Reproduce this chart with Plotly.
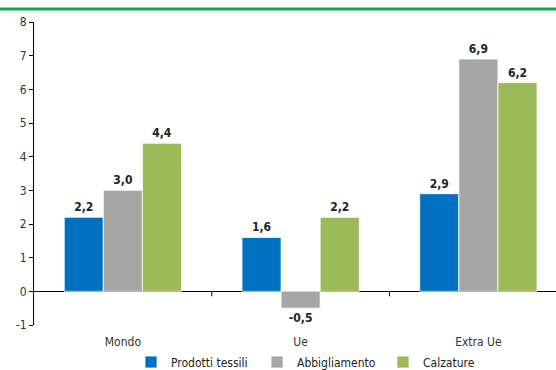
import plotly.graph_objects as go

categories = ["Mondo", "Ue", "Extra Ue"]
series_names = ["Prodotti tessili", "Abbigliamento", "Calzature"]
tessili = [2.2, 1.6, 2.9]
abbigliamento = [3.0, -0.5, 6.9]
calzature = [4.4, 2.2, 6.2]
colors = ["#0070C0", "#A6A6A6", "#9BBB59"]
y_ticks = [-1, 0, 1, 2, 3, 4, 5, 6, 7, 8]

FONT = "DejaVu Sans Condensed, Liberation Sans Narrow, Arial Narrow, sans-serif"

def fmt(v):
    return f"{v:.1f}".replace(".", ",")

fig = go.Figure()
for name, vals, col in zip(series_names, [tessili, abbigliamento, calzature], colors):
    fig.add_trace(go.Bar(
        x=categories, y=vals, name=name,
        marker=dict(color=col, line=dict(color="white", width=0.8)),
        text=[fmt(v) for v in vals], textposition="outside",
        textfont=dict(family=FONT, size=12, color="#222222", weight="bold"),
        cliponaxis=False,
    ))

W, H = 556, 370
L, R, T, B = 34, 0, 22, 45
plot_w = W - L - R
cat_px = 177.75
x_end = -0.5 + plot_w / cat_px

shapes = []
for i in range(len(categories) - 1):
    shapes.append(dict(type="line", xref="x", yref="y", ysizemode="pixel", yanchor=0,
                       x0=i + 0.5, x1=i + 0.5, y0=0, y1=-5,
                       line=dict(color="black", width=1)))
plot_h = H - T - B
shapes.append(dict(type="line", xref="paper", yref="paper",
                   x0=-L / plot_w, x1=1, y0=1 + 13 / plot_h, y1=1 + 13 / plot_h,
                   line=dict(color="#13A84B", width=3)))

fig.update_layout(
    width=W, height=H,
    margin=dict(l=L, r=R, t=T, b=B, autoexpand=False),
    paper_bgcolor="white", plot_bgcolor="white",
    barmode="group", bargap=0.34, bargroupgap=0,
    font=dict(family=FONT, size=12, color="#333333"),
    showlegend=True,
    legend=dict(orientation="h", xref="container", yref="container",
                x=0.5 + 42 / W, xanchor="center", y=1 - 362 / H, yanchor="middle",
                font=dict(family=FONT, size=12, color="#222222"),
                entrywidth=81, entrywidthmode="pixels",
                itemwidth=30, tracegroupgap=0),
    xaxis=dict(range=[-0.5, x_end], showline=False, showgrid=False, zeroline=False,
               ticks="outside", tickcolor="rgba(0,0,0,0)", ticklen=6,
               tickfont=dict(family=FONT, size=12, color="#333333"), fixedrange=True),
    yaxis=dict(range=[-1, 8], tickvals=y_ticks, ticktext=[str(v) for v in y_ticks],
               showgrid=False,
               showline=True, linecolor="black", linewidth=1,
               ticks="outside", ticklen=4, tickcolor="black",
               zeroline=True, zerolinecolor="black", zerolinewidth=1,
               tickfont=dict(family=FONT, size=12, color="#333333")),
    shapes=shapes,
)

fig.write_html("out.html")
